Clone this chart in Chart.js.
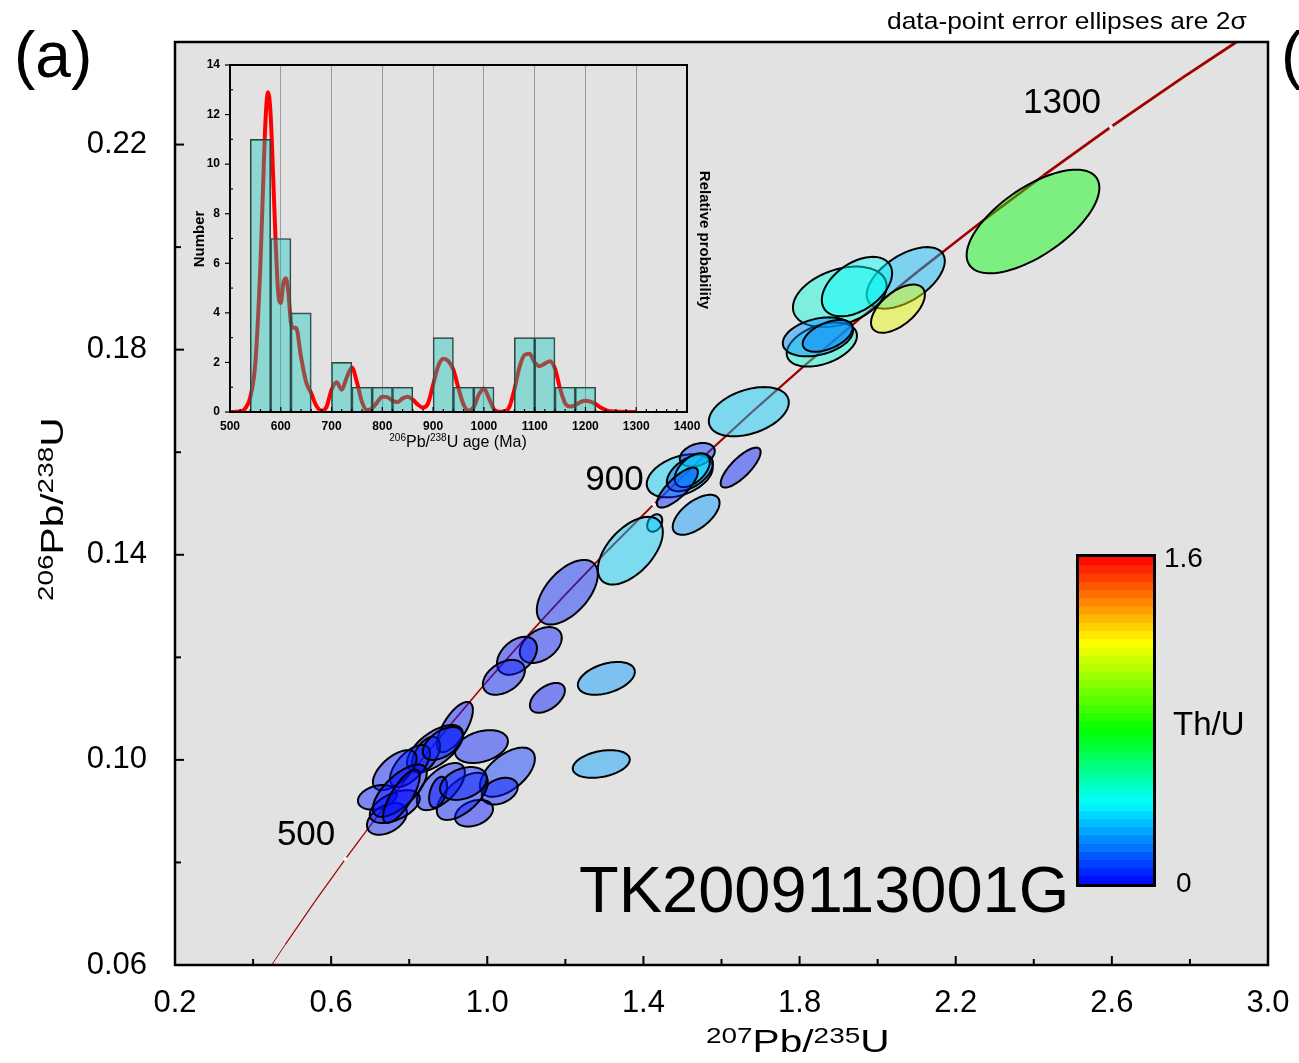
<!DOCTYPE html>
<html>
<head>
<meta charset="utf-8">
<script src="https://cdn.jsdelivr.net/npm/chart.js@4.4.1/dist/chart.umd.min.js"></script>
<style>
  html, body { margin: 0; padding: 0; background: #fff; }
  #wrap { position: relative; width: 1299px; height: 1063px; overflow: hidden; }
  #main { position: absolute; left: 0; top: 0; }
  #inset { position: absolute; left: 175px; top: 50px; }
</style>
</head>
<body>
<div id="wrap">
  <canvas id="main" width="1299" height="1063"></canvas>
  <canvas id="inset" width="545" height="410"></canvas>
</div>
<script>
const FONT = '"Liberation Sans", Arial, Helvetica, sans-serif';

// Concordia curve (age in Ma, 207Pb/235U, 206Pb/238U)
const concAge = [375, 400, 450, 500, 550, 600, 650, 700, 750, 800, 850, 900, 950, 1000, 1050, 1100, 1150, 1200, 1250, 1300, 1350, 1400];
const concX = [0.44675, 0.48281, 0.55766, 0.63628, 0.71887, 0.80563, 0.89677, 0.99251, 1.09308, 1.19873, 1.30971,
               1.42630, 1.54876, 1.67741, 1.81255, 1.95452, 2.10365, 2.26030, 2.42487, 2.59774, 2.77937, 2.97009];
const concY = [0.05990, 0.06402, 0.07230, 0.08065, 0.08906, 0.09754, 0.10609, 0.11470, 0.12338, 0.13213, 0.14094,
               0.14983, 0.15878, 0.16780, 0.17689, 0.18606, 0.19530, 0.20460, 0.21398, 0.22344, 0.23296, 0.24256];

// labelled ages on the concordia
const markAge = [500, 900, 1300];
const markX = [0.63628, 1.42630, 2.59774];
const markY = [0.08065, 0.14983, 0.22344];

// analyses: centre, 2 sigma errors, error correlation, Th/U
const ellX = [2.398, 2.072, 2.052, 1.903, 1.947, 1.857, 1.847, 1.872,
              1.670, 1.649, 1.493, 1.538, 1.519, 1.525, 1.487, 1.429, 1.535, 1.3665,
              1.205, 1.137, 1.076, 1.0425, 1.305, 1.154, 1.292,
              0.917, 0.985, 1.0515, 1.032, 0.966, 0.936, 0.881, 0.874, 0.866, 0.843,
              0.802, 0.886, 0.939, 0.763, 0.7186, 0.743, 0.763, 0.776, 0.780];
const ellY = [0.2050, 0.1940, 0.1880, 0.1903, 0.1923, 0.1810, 0.1825, 0.1827,
              0.1679, 0.1570, 0.1554, 0.1595, 0.1560, 0.1565, 0.1531, 0.1462, 0.1478, 0.1408,
              0.1327, 0.1224, 0.1203, 0.1161, 0.1159, 0.1121, 0.0992,
              0.1064, 0.1026, 0.0976, 0.0939, 0.0896, 0.0929, 0.0948, 0.0937, 0.1022, 0.1010,
              0.0988, 0.1032, 0.0954, 0.0980, 0.0927, 0.0885, 0.0909, 0.0940, 0.0929];
const ellSX = [0.170, 0.100, 0.069, 0.120, 0.090, 0.090, 0.090, 0.064,
               0.1024, 0.0512, 0.0845, 0.0448, 0.0590, 0.0450, 0.0525, 0.0192, 0.0600, 0.0832,
               0.0781, 0.0538, 0.0512, 0.0538, 0.0730, 0.0448, 0.0730,
               0.0461, 0.0679, 0.0704, 0.0461, 0.0487, 0.0653, 0.0615, 0.0230, 0.0717, 0.0358,
               0.0512, 0.0512, 0.0600, 0.0560, 0.0500, 0.0512, 0.0640, 0.0690, 0.0470];
const ellSY = [0.0101, 0.0060, 0.0047, 0.0059, 0.0058, 0.0043, 0.0038, 0.0031,
               0.0048, 0.0039, 0.0042, 0.0023, 0.0036, 0.0033, 0.0039, 0.0017, 0.0039, 0.0066,
               0.0063, 0.0035, 0.0037, 0.0034, 0.0032, 0.0029, 0.0027,
               0.0049, 0.0032, 0.0048, 0.0026, 0.0026, 0.0046, 0.0046, 0.0030, 0.0046, 0.0035,
               0.0041, 0.0032, 0.0032, 0.0039, 0.0024, 0.0031, 0.0032, 0.0051, 0.0052];
const ellRho = [0.65, 0.55, 0.58, 0.35, 0.45, 0.40, 0.32, 0.50,
                0.38, 0.78, 0.38, 0.32, 0.50, 0.50, 0.78, 0.30, 0.60, 0.55,
                0.55, 0.40, 0.40, 0.40, 0.40, 0.50, 0.32,
                0.68, 0.32, 0.55, 0.32, 0.32, 0.60, 0.60, 0.40, 0.60, 0.50,
                0.60, 0.50, 0.32, 0.60, 0.28, 0.40, 0.50, 0.68, 0.76];
const ellThU = [0.74, 0.30, 1.15, 0.45, 0.40, 0.45, 0.22, 0.20,
                0.32, 0.04, 0.33, 0.08, 0.18, 0.40, 0.05, 0.30, 0.24, 0.33,
                0.06, 0.04, 0.03, 0.04, 0.24, 0.03, 0.25,
                0.04, 0.04, 0.08, 0.03, 0.02, 0.04, 0.04, 0.02, 0.04, 0.02,
                0.04, 0.04, 0.04, 0.04, 0.04, 0.04, 0.02, 0.01, 0.01];

// histogram of 206Pb/238U ages (40 Ma bins) and probability curve
const binMid = [560, 600, 640, 720, 760, 800, 840, 920, 960, 1000, 1080, 1120, 1160, 1200];
const binCount = [11, 7, 4, 2, 1, 1, 1, 3, 1, 1, 3, 3, 1, 1];
const pdfAge = [500, 520, 530, 540, 550, 560, 565, 570, 575, 580, 585, 590, 595, 600, 605, 610, 615, 620, 625, 630,
                640, 650, 660, 670, 680, 690, 700, 710, 720, 730, 740, 750, 760, 770, 780, 790, 800, 810, 820, 830,
                840, 850, 860, 870, 880, 890, 900, 910, 920, 930, 940, 950, 960, 970, 980, 990, 1000, 1010, 1020,
                1030, 1040, 1050, 1060, 1070, 1080, 1090, 1100, 1110, 1120, 1130, 1140, 1150, 1160, 1170, 1180,
                1190, 1200, 1210, 1220, 1230, 1240, 1250, 1270, 1300];
const pdfVal = [0, 0.02, 0.15, 0.6, 2.0, 6.0, 9.0, 11.8, 12.9, 12.0, 9.5, 6.8, 4.8, 4.4, 5.2, 5.4, 4.8, 3.6, 3.4, 3.4,
                2.2, 1.2, 0.75, 0.25, 0.05, 0.2, 0.9, 1.2, 0.9, 1.4, 1.8, 1.2, 0.4, 0.08, 0.15, 0.4, 0.62, 0.6, 0.45, 0.4,
                0.55, 0.62, 0.5, 0.3, 0.18, 0.35, 1.1, 1.85, 2.15, 2.05, 1.7, 0.95, 0.3, 0.05, 0.2, 0.7, 0.95, 0.55, 0.1,
                0.01, 0.02, 0.2, 0.9, 1.8, 2.3, 2.35, 2.0, 1.85, 1.95, 2.05, 1.75, 0.95, 0.35, 0.22, 0.28,
                0.4, 0.45, 0.42, 0.32, 0.18, 0.08, 0.03, 0.01, 0];

// Th/U colour scale, 0 - 1.6
const cmapStops = [0, 0.25, 0.47, 0.74, 1];
const cmapRGB = [[0, 0, 255], [0, 255, 255], [0, 255, 0], [255, 255, 0], [255, 0, 0]];
function thuColor(v) {
  const f = Math.max(0, Math.min(1, v / 1.6));
  let i = 0;
  while (i < cmapStops.length - 2 && f > cmapStops[i + 1]) i++;
  const t = (f - cmapStops[i]) / (cmapStops[i + 1] - cmapStops[i]);
  return cmapRGB[i].map((c, k) => Math.round(c + (cmapRGB[i + 1][k] - c) * t));
}

// text with superscripts, e.g. 206Pb/238U
function drawIso(ctx, parts, x, y, opt) {
  ctx.save();
  ctx.translate(x, y);
  if (opt.rot) ctx.rotate(opt.rot);
  ctx.scale(opt.sx || 1, 1);
  const fonts = parts.map(p => (opt.bold ? 'bold ' : '') + (p[1] ? opt.sup : opt.size) + 'px ' + FONT);
  let w = 0;
  parts.forEach((p, i) => { ctx.font = fonts[i]; w += ctx.measureText(p[0]).width; });
  let cx = opt.center ? -w / 2 : 0;
  ctx.fillStyle = '#000';
  ctx.textBaseline = 'alphabetic';
  ctx.textAlign = 'left';
  parts.forEach((p, i) => {
    ctx.font = fonts[i];
    ctx.fillText(p[0], cx, p[1] ? -opt.rise : 0);
    cx += ctx.measureText(p[0]).width;
  });
  ctx.restore();
}

function stretchText(ctx, txt, x, y, font, sx) {
  ctx.save();
  ctx.translate(x, y);
  ctx.scale(sx, 1);
  ctx.font = font;
  ctx.fillStyle = '#000';
  ctx.textAlign = 'left';
  ctx.textBaseline = 'alphabetic';
  ctx.fillText(txt, 0, 0);
  ctx.restore();
}

const mainDeco = {
  id: 'mainDeco',
  beforeDraw(chart) {
    const { ctx, chartArea: a } = chart;
    ctx.save();
    ctx.fillStyle = '#fff';
    ctx.fillRect(0, 0, chart.width, chart.height);
    ctx.fillStyle = '#e2e2e2';
    ctx.fillRect(a.left, a.top, a.right - a.left, a.bottom - a.top);
    ctx.restore();
  },
  afterDatasetsDraw(chart) {
    const { ctx, chartArea: a, scales: { x, y } } = chart;
    ctx.save();
    ctx.beginPath();
    ctx.rect(a.left, a.top, a.right - a.left, a.bottom - a.top);
    ctx.clip();
    ctx.lineWidth = 2;
    ctx.strokeStyle = '#000';
    for (let i = 0; i < ellX.length; i++) {
      const r = ellRho[i], q = Math.sqrt(1 - r * r);
      ctx.beginPath();
      for (let k = 0; k <= 96; k++) {
        const t = k / 96 * 2 * Math.PI;
        const px = x.getPixelForValue(ellX[i] + ellSX[i] * Math.cos(t));
        const py = y.getPixelForValue(ellY[i] + ellSY[i] * (r * Math.cos(t) + q * Math.sin(t)));
        if (k === 0) ctx.moveTo(px, py); else ctx.lineTo(px, py);
      }
      ctx.closePath();
      const c = thuColor(ellThU[i]);
      ctx.fillStyle = 'rgba(' + c[0] + ',' + c[1] + ',' + c[2] + ',0.45)';
      ctx.fill();
      ctx.stroke();
    }
    ctx.restore();
  },
  afterDraw(chart) {
    const { ctx, chartArea: a, scales: { x, y } } = chart;
    ctx.save();
    // ticks, pointing inward
    ctx.strokeStyle = '#000';
    ctx.lineWidth = 2;
    x.ticks.forEach(t => {
      const px = x.getPixelForValue(t.value);
      const len = t.label ? 9 : 6;
      ctx.beginPath(); ctx.moveTo(px, a.bottom); ctx.lineTo(px, a.bottom - len); ctx.stroke();
    });
    y.ticks.forEach(t => {
      const py = y.getPixelForValue(t.value);
      const len = t.label ? 9 : 6;
      ctx.beginPath(); ctx.moveTo(a.left, py); ctx.lineTo(a.left + len, py); ctx.stroke();
    });
    // frame
    ctx.lineWidth = 2.5;
    ctx.strokeRect(a.left, a.top, a.right - a.left, a.bottom - a.top);

    // age labels on the concordia
    ctx.fillStyle = '#000';
    ctx.font = '35px ' + FONT;
    ctx.textAlign = 'right';
    ctx.textBaseline = 'alphabetic';
    markAge.forEach((age, i) => {
      ctx.fillText(String(age), x.getPixelForValue(markX[i]) - 10, y.getPixelForValue(markY[i]) - 14);
    });

    // sample name
    ctx.textAlign = 'left';
    ctx.font = '65px ' + FONT;
    ctx.fillText('TK2009113001G', 579, 912);

    // panel letters
    ctx.font = '64px ' + FONT;
    ctx.fillText('(a)', 14, 77);
    ctx.fillText('(', 1281, 77);

    stretchText(ctx, 'data-point error ellipses are 2\u03c3', 887, 29, '24px ' + FONT, 1.1);

    // colour bar
    const cb = { l: 1079, r: 1153, t: 557, b: 884 };
    const nBand = 40;
    for (let k = 0; k < nBand; k++) {
      const c = thuColor((k + 0.5) / nBand * 1.6);
      ctx.fillStyle = 'rgb(' + c[0] + ',' + c[1] + ',' + c[2] + ')';
      const y0 = cb.b - (k + 1) * (cb.b - cb.t) / nBand;
      ctx.fillRect(cb.l, y0, cb.r - cb.l, (cb.b - cb.t) / nBand + 0.5);
    }
    ctx.lineWidth = 3;
    ctx.strokeStyle = '#000';
    ctx.strokeRect(cb.l - 1.5, cb.t - 1.5, cb.r - cb.l + 3, cb.b - cb.t + 3);
    ctx.fillStyle = '#000';
    ctx.font = '28px ' + FONT;
    ctx.fillText('1.6', 1164, 567);
    ctx.fillText('0', 1176, 892);
    ctx.font = '33px ' + FONT;
    ctx.fillText('Th/U', 1173, 735);

    // axis titles
    drawIso(ctx, [['207', true], ['Pb/', false], ['235', true], ['U', false]], 706, 1052,
      { size: 32, sup: 22, rise: 9, sx: 1.27 });
    drawIso(ctx, [['206', true], ['Pb/', false], ['238', true], ['U', false]], 63, 601,
      { size: 32, sup: 22, rise: 10, sx: 1.27, rot: -Math.PI / 2 });
    ctx.restore();
  }
};

const nSeg = concX.length - 1;

new Chart(document.getElementById('main'), {
  type: 'scatter',
  data: {
    datasets: [
      {
        data: concX.map((v, i) => ({ x: v, y: concY[i] })),
        showLine: true,
        borderColor: '#a00000',
        borderWidth: 2,
        segment: { borderWidth: c => 1 + 2 * c.p0DataIndex / nSeg },
        pointRadius: 0,
        tension: 0,
        order: 2
      },
      {
        data: markX.map((v, i) => ({ x: v, y: markY[i] })),
        pointRadius: 2,
        pointBackgroundColor: '#ffffff',
        pointBorderWidth: 0,
        order: 1
      }
    ]
  },
  options: {
    responsive: false,
    animation: false,
    devicePixelRatio: 1,
    layout: { padding: { left: 0, top: 42, right: 31, bottom: 0 } },
    plugins: { legend: { display: false }, tooltip: { enabled: false } },
    scales: {
      x: {
        type: 'linear', min: 0.2, max: 3.0,
        grid: { display: false, drawTicks: false },
        border: { display: false },
        ticks: {
          stepSize: 0.2, autoSkip: false, maxRotation: 0, padding: 20, color: '#000',
          font: { family: FONT, size: 31 },
          callback: v => (Math.round(v * 10) % 4 === 2 ? v.toFixed(1) : '')
        },
        afterFit: s => { s.height = 98; s.paddingLeft = 0; s.paddingRight = 0; }
      },
      y: {
        type: 'linear', min: 0.06, max: 0.24,
        grid: { display: false, drawTicks: false },
        border: { display: false },
        ticks: {
          stepSize: 0.02, autoSkip: false, padding: 28, color: '#000',
          font: { family: FONT, size: 31 },
          callback: v => (Math.round(v * 100) % 4 === 2 ? v.toFixed(2) : '')
        },
        afterFit: s => { s.width = 175; s.paddingTop = 0; s.paddingBottom = 0; }
      }
    }
  },
  plugins: [mainDeco]
});

// ---- inset: age histogram + probability curve ----
const insetDeco = {
  id: 'insetDeco',
  afterDraw(chart) {
    const { ctx, chartArea: a, scales: { x, y } } = chart;
    ctx.save();
    ctx.strokeStyle = '#000';
    ctx.lineWidth = 1.2;
    for (let v = 0; v <= 14; v++) {
      const py = y.getPixelForValue(v);
      ctx.beginPath();
      if (v % 2 === 0) { ctx.moveTo(a.left - 5, py); ctx.lineTo(a.left, py); }
      else { ctx.moveTo(a.left, py); ctx.lineTo(a.left + 3, py); }
      ctx.stroke();
    }
    for (let v = 500; v <= 1400; v += 20) {
      const px = x.getPixelForValue(v);
      const len = v % 100 === 0 ? 5 : 3;
      ctx.beginPath(); ctx.moveTo(px, a.bottom); ctx.lineTo(px, a.bottom - len); ctx.stroke();
    }
    ctx.lineWidth = 2;
    ctx.strokeRect(a.left, a.top, a.right - a.left, a.bottom - a.top);

    // titles
    ctx.fillStyle = '#000';
    ctx.font = 'bold 15px ' + FONT;
    ctx.textAlign = 'center';
    ctx.textBaseline = 'alphabetic';
    ctx.save();
    ctx.translate(29, 189);
    ctx.rotate(-Math.PI / 2);
    ctx.fillText('Number', 0, 0);
    ctx.restore();
    ctx.save();
    ctx.translate(525, 190);
    ctx.rotate(Math.PI / 2);
    ctx.fillText('Relative probability', 0, 0);
    ctx.restore();
    drawIso(ctx, [['206', true], ['Pb/', false], ['238', true], ['U age (Ma)', false]], 283, 397,
      { size: 16, sup: 10, rise: 6, center: true });
    ctx.restore();
  }
};

new Chart(document.getElementById('inset'), {
  type: 'bar',
  data: {
    datasets: [
      {
        type: 'line',
        data: pdfAge.map((v, i) => ({ x: v, y: pdfVal[i] })),
        borderColor: '#ff0000',
        borderWidth: 4,
        pointRadius: 0,
        cubicInterpolationMode: 'monotone',
        order: 2
      },
      {
        type: 'bar',
        data: binMid.map((v, i) => ({ x: v, y: binCount[i] })),
        backgroundColor: 'rgba(0, 197, 184, 0.38)',
        borderColor: '#3c3c3c',
        borderWidth: 1,
        barPercentage: 1,
        categoryPercentage: 1,
        order: 1
      }
    ]
  },
  options: {
    responsive: false,
    animation: false,
    devicePixelRatio: 1,
    layout: { padding: { left: 0, top: 15, right: 33, bottom: 0 } },
    plugins: { legend: { display: false }, tooltip: { enabled: false } },
    scales: {
      x: {
        type: 'linear', min: 500, max: 1400, offset: false,
        grid: { color: '#9a9a9a', lineWidth: 1, drawTicks: false, offset: false },
        border: { display: false },
        ticks: { stepSize: 100, autoSkip: false, maxRotation: 0, padding: 7, color: '#000',
                 font: { family: FONT, size: 12, weight: 'bold' },
                 callback: v => String(v) },
        afterFit: s => { s.height = 48; s.paddingLeft = 0; s.paddingRight = 0; }
      },
      y: {
        min: 0, max: 14,
        grid: { display: false, drawTicks: false },
        border: { display: false },
        ticks: { stepSize: 2, padding: 10, color: '#000', font: { family: FONT, size: 12, weight: 'bold' } },
        afterFit: s => { s.width = 55; s.paddingTop = 0; s.paddingBottom = 0; }
      }
    }
  },
  plugins: [insetDeco]
});
</script>
</body>
</html>
